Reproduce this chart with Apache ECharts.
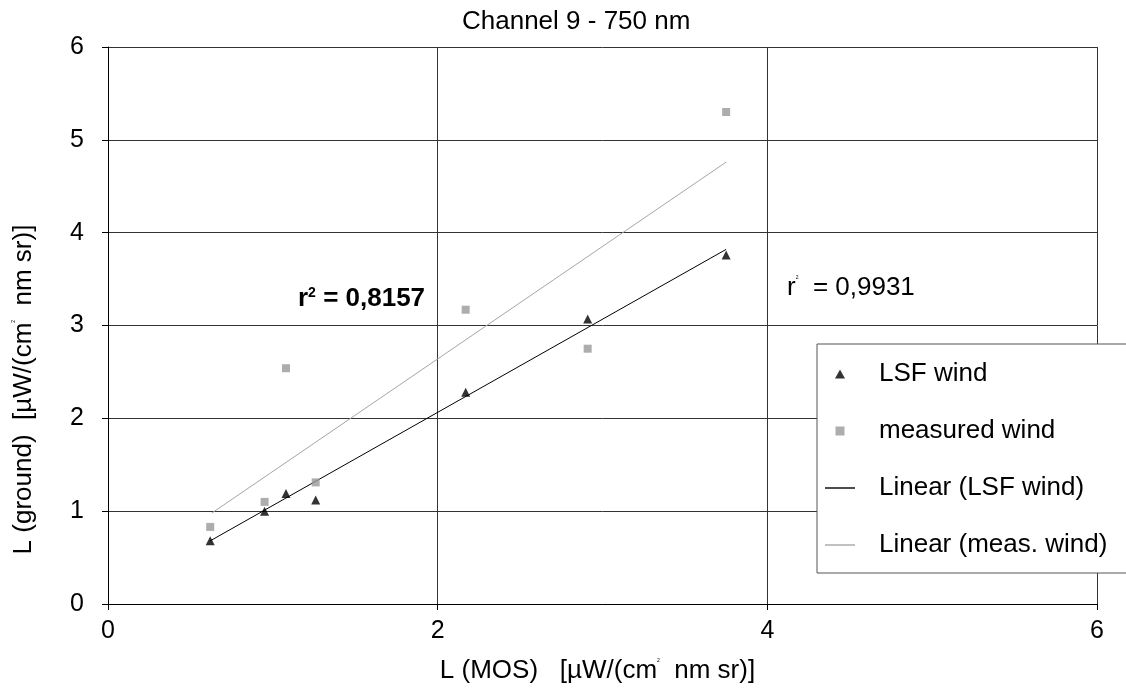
<!DOCTYPE html>
<html>
<head>
<meta charset="utf-8">
<script src="https://cdn.jsdelivr.net/npm/echarts@6/dist/echarts.min.js"></script>
<style>
  html, body { margin: 0; padding: 0; background: #fff; }
  #chart { width: 1126px; height: 691px; }
</style>
</head>
<body>
<div id="chart"></div>
<script>
// values
const mosValues = [0.62, 0.95, 1.08, 1.26, 2.17, 2.91, 3.75];
const lsfWind = [0.68, 1.0, 1.19, 1.12, 2.28, 3.07, 3.76];
const measuredWind = [0.83, 1.1, 2.54, 1.31, 3.17, 2.75, 5.3];

// trend line end points (as drawn)
const lsfTrend = [[0.62, 0.68], [3.75, 3.82]];
const measTrend = [[0.63, 0.98], [3.75, 4.76]];

const xTicks = [0, 2, 4, 6];
const yTicks = [0, 1, 2, 3, 4, 5, 6];

const FONT = '"Liberation Sans", Arial, sans-serif';

// small legend icons (keep aspect, so they stay small inside the 30px slot)
const ICON_TRI = 'path://M5,0L10,9L0,9Z';
const ICON_SQ = 'path://M0,0h8v8h-8z';
const ICON_LINE = 'path://M0,0h30v1.4h-30z';

const myChart = echarts.init(document.getElementById('chart'));

const option = {
  backgroundColor: '#fff',
  animation: false,
  textStyle: { fontFamily: FONT, color: '#000' },
  title: {
    text: 'Channel 9 - 750 nm',
    left: 462,
    top: 9,
    padding: 0,
    textStyle: { fontFamily: FONT, fontSize: 26, fontWeight: 'normal', color: '#000' }
  },
  grid: {
    left: 108,
    right: 29,
    top: 47,
    bottom: 87,
    containLabel: false
  },
  xAxis: {
    type: 'value',
    min: xTicks[0],
    max: xTicks[xTicks.length - 1],
    interval: 2,
    name: 'L (MOS)   [µW/(cm{s|2}  nm sr)]',
    nameLocation: 'middle',
    nameGap: 54,
    nameTextStyle: {
      fontFamily: FONT,
      fontSize: 26,
      color: '#000',
      padding: [0, 10, 0, 0],
      rich: { s: { fontSize: 5, verticalAlign: 'top', padding: [0, 0, 14, 0] } }
    },
    axisLine: { lineStyle: { color: '#000', width: 1 } },
    axisTick: { show: true, length: 6, lineStyle: { color: '#000' } },
    axisLabel: { fontFamily: FONT, fontSize: 25, color: '#000', margin: 15 },
    splitLine: { show: true, lineStyle: { color: '#333', width: 1 } }
  },
  yAxis: {
    type: 'value',
    min: yTicks[0],
    max: yTicks[yTicks.length - 1],
    interval: 1,
    name: 'L (ground)  [µW/(cm{s|2}  nm sr)]',
    nameLocation: 'middle',
    nameRotate: 90,
    nameGap: 71,
    nameTextStyle: {
      fontFamily: FONT,
      fontSize: 26,
      color: '#000',
      padding: [0, 128, 0, 0],
      rich: { s: { fontSize: 5, verticalAlign: 'top', padding: [0, 0, 14, 0] } }
    },
    axisLine: { show: true, lineStyle: { color: '#000', width: 1 } },
    axisTick: { show: true, length: 6, lineStyle: { color: '#000' } },
    axisLabel: { fontFamily: FONT, fontSize: 25, color: '#000', margin: 24 },
    splitLine: { show: true, lineStyle: { color: '#333', width: 1 } }
  },
  legend: {
    orient: 'vertical',
    left: 817,
    top: 344,
    padding: [17, 30, 15, 8],
    itemWidth: 30,
    itemHeight: 9,
    itemGap: 31,
    symbolKeepAspect: true,
    backgroundColor: '#fff',
    borderColor: '#555',
    borderWidth: 1,
    borderRadius: 0,
    textStyle: { fontFamily: FONT, fontSize: 26, color: '#000', padding: [0, 0, 0, 19] },
    data: [
      { name: 'LSF wind', icon: ICON_TRI },
      { name: 'measured wind', icon: ICON_SQ },
      { name: 'Linear (LSF wind)', icon: ICON_LINE },
      { name: 'Linear (meas. wind)', icon: ICON_LINE }
    ]
  },
  graphic: [
    {
      type: 'text',
      left: 298,
      top: 286,
      style: {
        text: 'r{b|2} = 0,8157',
        fontFamily: FONT,
        fontSize: 26,
        fontWeight: 'bold',
        fill: '#000',
        rich: { b: { fontSize: 14, fontWeight: 'bold', verticalAlign: 'top', padding: [0, 0, 9, 0] } }
      }
    },
    {
      type: 'text',
      left: 787,
      top: 275,
      style: {
        text: 'r{s|2}  = 0,9931',
        fontFamily: FONT,
        fontSize: 26,
        fill: '#000',
        rich: { s: { fontSize: 5, verticalAlign: 'top', padding: [0, 0, 14, 0] } }
      }
    }
  ],
  series: [
    {
      name: 'Linear (meas. wind)',
      type: 'line',
      data: measTrend,
      symbol: 'none',
      lineStyle: { color: '#a6a6a6', width: 1 },
      itemStyle: { color: '#a6a6a6' },
      z: 2
    },
    {
      name: 'Linear (LSF wind)',
      type: 'line',
      data: lsfTrend,
      symbol: 'none',
      lineStyle: { color: '#000', width: 1 },
      itemStyle: { color: '#000' },
      z: 2
    },
    {
      name: 'measured wind',
      type: 'scatter',
      symbol: 'rect',
      symbolSize: 8,
      data: mosValues.map((x, i) => [x, measuredWind[i]]),
      itemStyle: { color: '#999999' },
      z: 3
    },
    {
      name: 'LSF wind',
      type: 'scatter',
      symbol: 'triangle',
      symbolSize: 9,
      data: mosValues.map((x, i) => [x, lsfWind[i]]),
      itemStyle: { color: '#000' },
      z: 4
    }
  ]
};

myChart.setOption(option, true);
</script>
</body>
</html>
